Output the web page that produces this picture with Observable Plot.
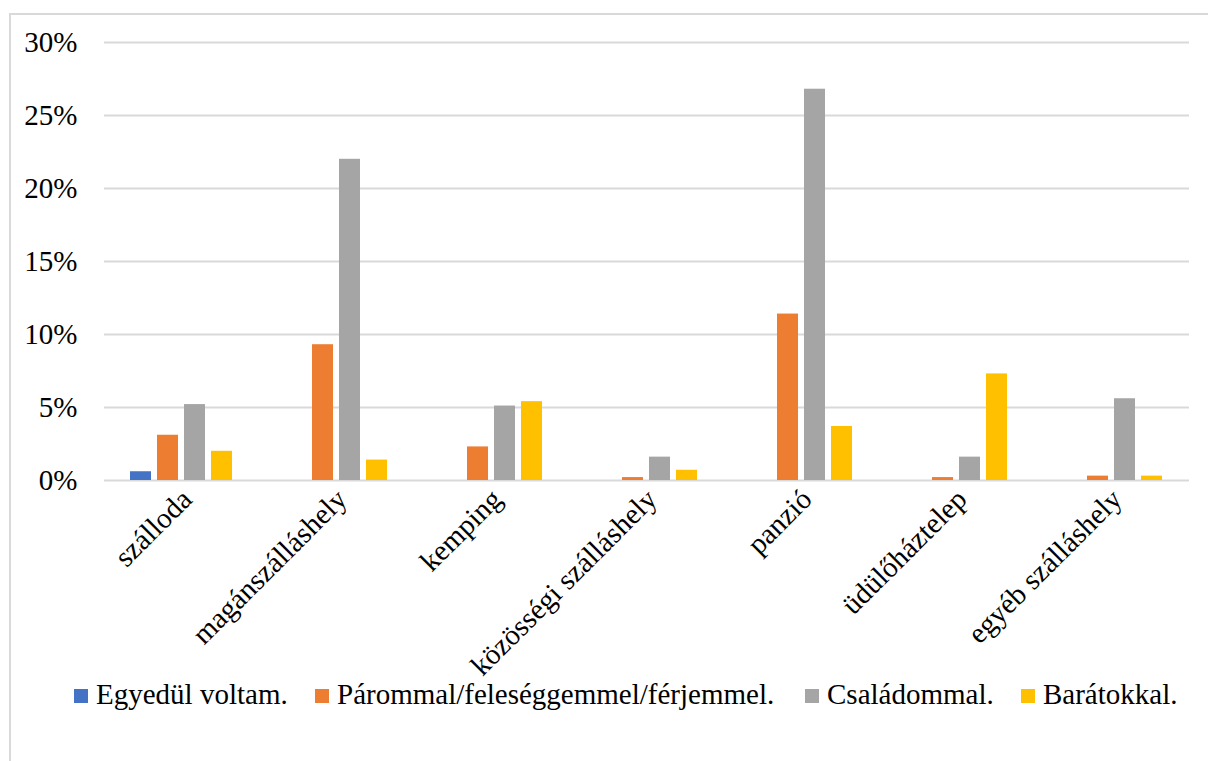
<!DOCTYPE html>
<html>
<head>
<meta charset="utf-8">
<script src="https://cdn.jsdelivr.net/npm/d3@7"></script>
<script src="https://cdn.jsdelivr.net/npm/@observablehq/plot@0.6"></script>
<style>
  html, body { margin: 0; padding: 0; background: #fff; }
  body { width: 1208px; height: 761px; position: relative; overflow: hidden; font-family: "Liberation Serif", "Times New Roman", serif; }
  #frame { position: absolute; left: 9px; top: 13px; width: 1210px; height: 760px; border: 2px solid #d9d9d9; box-sizing: border-box; }
  #chart { position: absolute; left: 0; top: 0; }
  #legend { position: absolute; top: 677px; left: 0; width: 1208px; height: 34px; }
  .item { position: absolute; top: 0; font-size: 29px; line-height: 34px; color: #000; white-space: nowrap; font-family: "Liberation Serif", "Times New Roman", serif; }
  .sw { display: inline-block; width: 14px; height: 14px; margin-right: 8px; vertical-align: 1px; }
</style>
</head>
<body>
<div id="frame"></div>
<div id="chart"></div>
<div id="legend"></div>
<script>
const categories = ["szálloda", "magánszálláshely", "kemping", "közösségi szálláshely", "panzió", "üdülőháztelep", "egyéb szálláshely"];
const seriesNames = ["Egyedül voltam.", "Párommal/feleséggemmel/férjemmel.", "Családommal.", "Barátokkal."];
const colors = ["#4472C4", "#ED7D31", "#A5A5A5", "#FFC000"];
const egyedul  = [0.6, 0, 0, 0, 0, 0, 0];
const parommal = [3.1, 9.3, 2.3, 0.2, 11.4, 0.2, 0.3];
const csaladdal = [5.2, 22.0, 5.1, 1.6, 26.8, 1.6, 5.6];
const baratokkal = [2.0, 1.4, 5.4, 0.7, 3.7, 7.3, 0.3];
const yTicks = [0, 5, 10, 15, 20, 25, 30];

const seriesValues = [egyedul, parommal, csaladdal, baratokkal];
const data = [];
categories.forEach((c, i) => {
  seriesNames.forEach((s, j) => {
    data.push({cat: c, series: s, value: seriesValues[j][i]});
  });
});

const plot = Plot.plot({
  width: 1208,
  height: 680,
  marginTop: 42,
  marginBottom: 200,
  marginLeft: 104,
  marginRight: 19,
  style: {fontFamily: '"Liberation Serif", "Times New Roman", serif', fontSize: "29px", color: "#000", background: "transparent", overflow: "visible"},
  fx: {domain: categories, padding: 0, label: null},
  x: {domain: seriesNames, paddingInner: 0.214, paddingOuter: 0.875, axis: null},
  y: {domain: [0, 30], ticks: yTicks, label: null},
  color: {domain: seriesNames, range: colors},
  marks: [
    Plot.ruleY(yTicks, {stroke: "#d9d9d9", strokeWidth: 2}),
    Plot.barY(data, {fx: "cat", x: "series", y: "value", fill: "series"}),
    Plot.axisY(yTicks, {tickSize: 0, tickPadding: 27, tickFormat: d => d + "%", fontSize: 29, label: null, fontFamily: '"Liberation Serif", "Times New Roman", serif'}),
    Plot.axisFx({anchor: "bottom", tickSize: 0, tickPadding: 14, tickRotate: -45, fontSize: 29, label: null, dx: 5, fontFamily: '"Liberation Serif", "Times New Roman", serif'})
  ]
});
document.getElementById("chart").appendChild(plot);

const legend = document.getElementById("legend");
const lefts = [74, 315, 805, 1021];
seriesNames.forEach((s, j) => {
  const d = document.createElement("div");
  d.className = "item";
  d.style.left = lefts[j] + "px";
  d.innerHTML = `<span class="sw" style="background:${colors[j]}"></span>${s}`;
  legend.appendChild(d);
});
</script>
</body>
</html>
